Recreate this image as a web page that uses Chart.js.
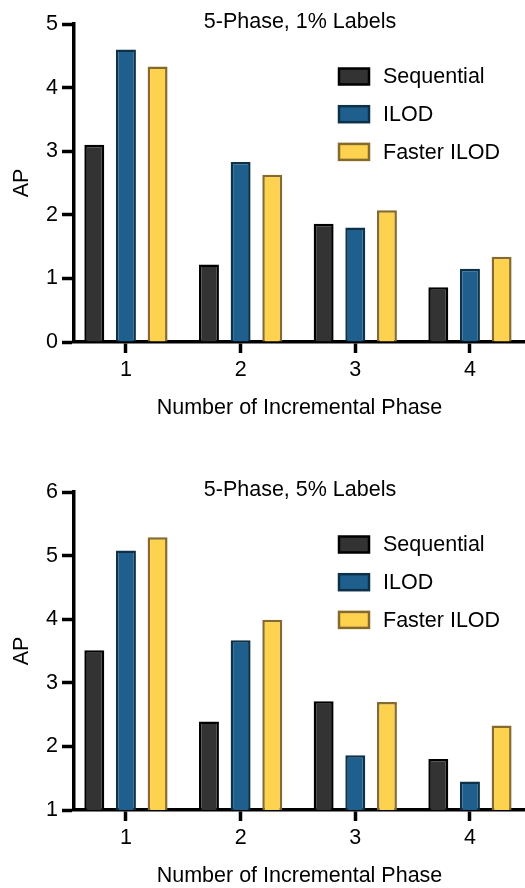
<!DOCTYPE html>
<html>
<head>
<meta charset="utf-8">
<script src="https://cdn.jsdelivr.net/npm/chart.js@4/dist/chart.umd.min.js"></script>
<style>
    html, body { margin: 0; padding: 0; background: #fff; overflow: hidden; width: 525px; height: 888px; }
    canvas { position: absolute; left: 0; }
    #chart1 { top: 0; }
    #chart5 { top: 468px; }
</style>
</head>
<body>
<canvas id="chart1" width="525" height="468"></canvas>
<canvas id="chart5" width="525" height="468"></canvas>
<script>

// data
const phases = [1, 2, 3, 4];
const seriesNames = ["Sequential", "ILOD", "Faster ILOD"];

const seq1 = [3.10, 1.22, 1.86, 0.86];
const ilod1 = [4.60, 2.83, 1.80, 1.15];
const faster1 = [4.33, 2.63, 2.07, 1.34];

const seq5 = [3.51, 2.39, 2.71, 1.80];
const ilod5 = [5.08, 3.67, 1.86, 1.45];
const faster5 = [5.29, 3.99, 2.70, 2.33];

const yTicks1 = [0, 1, 2, 3, 4, 5];
const yTicks5 = [1, 2, 3, 4, 5, 6];

const titles = ["5-Phase, 1% Labels", "5-Phase, 5% Labels"];

const fills = ["#333333", "#1f5f8e", "#fdd24f"];
const borders = ["#000000", "#0c3148", "#866a2c"];

const FONT = "'Liberation Sans', Arial, sans-serif";

const titleLegend = {
    id: "titleLegend",
    afterDraw(chart) {
        const ctx = chart.ctx;
        ctx.save();
        ctx.fillStyle = "#000";
        ctx.font = "21.5px " + FONT;
        ctx.textAlign = "center";
        ctx.textBaseline = "middle";
        ctx.fillText(chart.options.plugins.titleLegend.text, 300, 22);

        ctx.textAlign = "left";
        chart.data.datasets.forEach((ds, i) => {
            const y = 76.5 + i * 37.7;
            ctx.fillStyle = ds.backgroundColor;
            ctx.strokeStyle = ds.borderColor;
            ctx.lineWidth = 2.5;
            ctx.fillRect(339, y - 8, 30, 16);
            ctx.strokeRect(339, y - 8, 30, 16);
            ctx.fillStyle = "#000";
            ctx.fillText(ds.label, 383, y + 1);
        });
        ctx.restore();
    }
};

function makeChart(id, seriesList, yTicks, title) {

    const canvas = document.getElementById(id);

    const datasets = seriesList.map((values, i) => ({
        label: seriesNames[i],
        data: phases.map((p, j) => ({ x: p, y: values[j] })),
        backgroundColor: fills[i],
        borderColor: borders[i],
        borderWidth: 2.5,
        categoryPercentage: 0.828,
        barPercentage: 0.63
    }));

    return new Chart(canvas, {
        type: "bar",
        data: { datasets: datasets },
        plugins: [titleLegend],
        options: {
            responsive: false,
            animation: false,
            layout: { padding: { top: 24, left: 0, right: 0, bottom: 0 } },
            plugins: {
                legend: { display: false },
                tooltip: { enabled: false },
                titleLegend: { text: title }
            },
            scales: {
                x: {
                    type: "linear",
                    offset: false,
                    min: 0.547,
                    max: 4.48,
                    afterBuildTicks: scale => {
                        scale.ticks = phases.map(p => ({ value: p }));
                    },
                    afterFit: scale => { scale.height = 126; },
                    ticks: {
                        autoSkip: false,
                        maxRotation: 0,
                        padding: 4,
                        color: "#000",
                        font: { family: FONT, size: 21.5 }
                    },
                    grid: {
                        offset: false,
                        drawOnChartArea: false,
                        drawTicks: true,
                        tickLength: 11,
                        tickWidth: 3.5,
                        tickColor: "#000"
                    },
                    border: { display: true, width: 3.5, color: "#000" },
                    title: {
                        display: true,
                        text: "Number of Incremental Phase",
                        color: "#000",
                        font: { family: FONT, size: 21.5 },
                        padding: { top: 0, bottom: 47 }
                    }
                },
                y: {
                    min: yTicks[0],
                    max: yTicks[yTicks.length - 1],
                    afterBuildTicks: scale => {
                        scale.ticks = yTicks.map(v => ({ value: v }));
                    },
                    afterFit: scale => { scale.width = 74; },
                    ticks: {
                        padding: 4,
                        color: "#000",
                        font: { family: FONT, size: 21.5 }
                    },
                    grid: {
                        drawOnChartArea: false,
                        drawTicks: true,
                        tickLength: 12,
                        tickWidth: 3.5,
                        tickColor: "#000"
                    },
                    border: { display: true, width: 3.5, color: "#000" },
                    title: {
                        display: true,
                        text: "AP",
                        color: "#000",
                        font: { family: FONT, size: 21.5 },
                        padding: { top: 9.5, bottom: 0 }
                    }
                }
            }
        }
    });
}

window.onload = function () {
    makeChart("chart1", [seq1, ilod1, faster1], yTicks1, titles[0]);
    makeChart("chart5", [seq5, ilod5, faster5], yTicks5, titles[1]);
};
</script>
</body>
</html>
